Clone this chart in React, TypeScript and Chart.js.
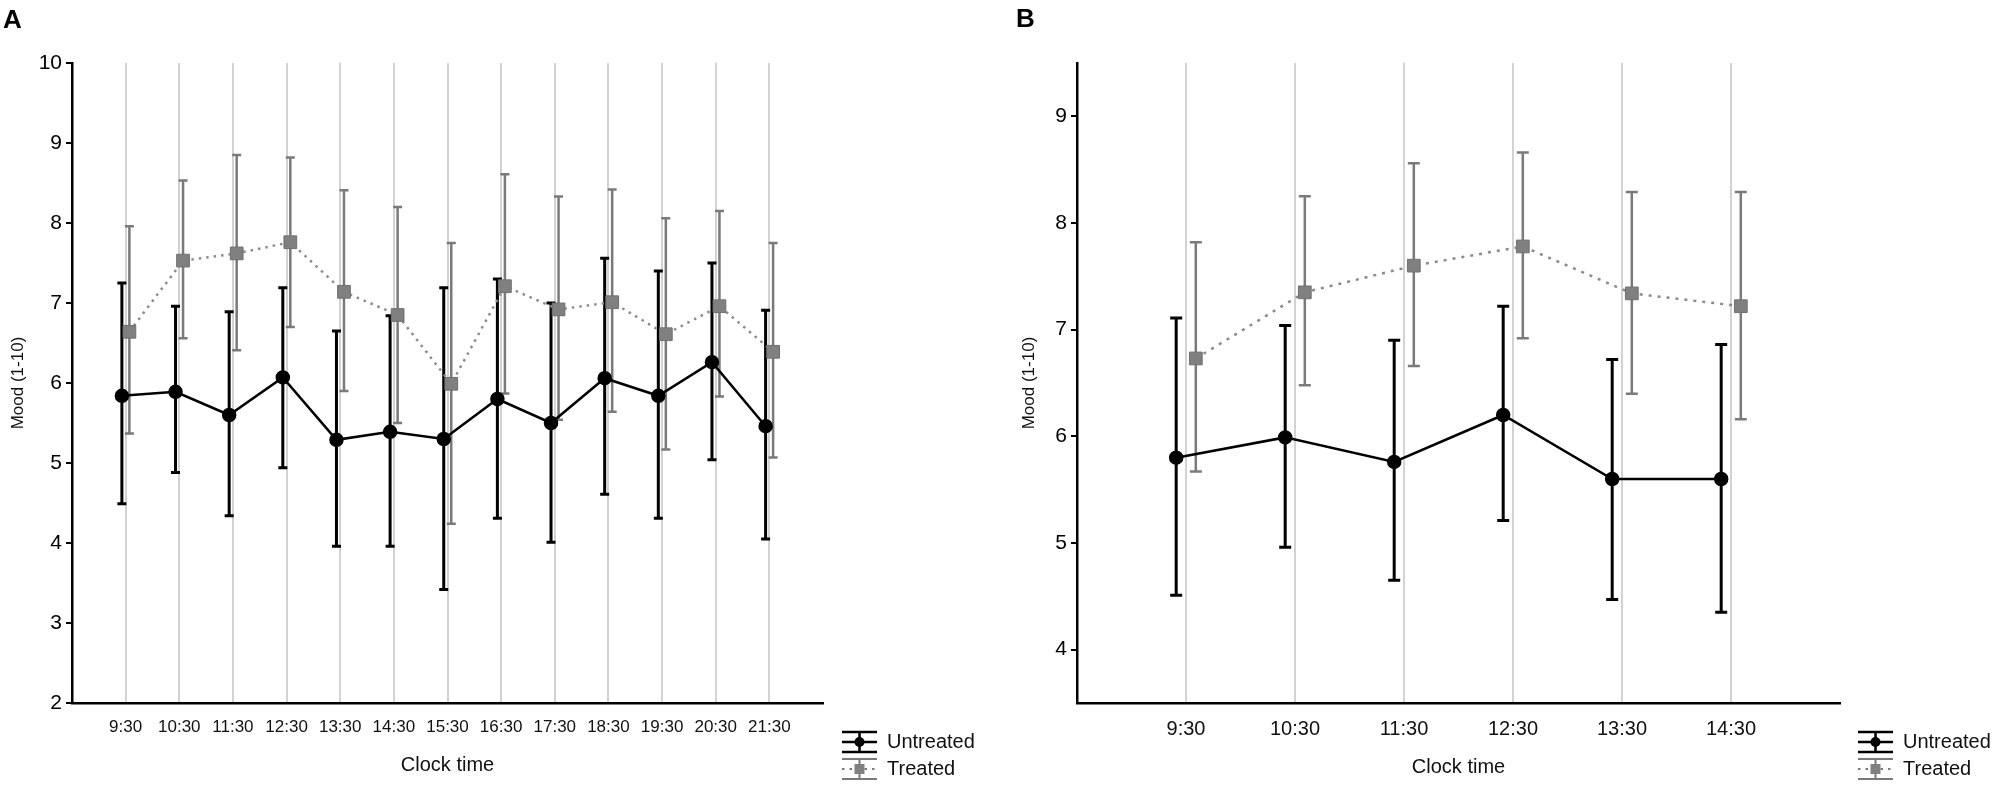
import { useEffect, useRef } from 'react';
import { Chart, registerables } from 'chart.js';

Chart.register(...registerables);

// Panel A – whole day
const timesA = ['9:30', '10:30', '11:30', '12:30', '13:30', '14:30', '15:30', '16:30', '17:30', '18:30', '19:30', '20:30', '21:30'];
const yTicksA = [2, 3, 4, 5, 6, 7, 8, 9, 10];
const untreatedA = [5.84, 5.89, 5.6, 6.07, 5.29, 5.39, 5.3, 5.8, 5.5, 6.06, 5.84, 6.26, 5.46];
const untreatedHiA = [7.25, 6.96, 6.89, 7.19, 6.65, 6.84, 7.19, 7.3, 7.0, 7.56, 7.4, 7.5, 6.91];
const untreatedLoA = [4.49, 4.88, 4.34, 4.94, 3.96, 3.96, 3.42, 4.31, 4.01, 4.61, 4.31, 5.04, 4.05];
const treatedA = [6.64, 7.53, 7.62, 7.76, 7.14, 6.85, 5.99, 7.21, 6.92, 7.01, 6.61, 6.96, 6.39];
const treatedHiA = [7.96, 8.53, 8.85, 8.82, 8.41, 8.2, 7.75, 8.61, 8.33, 8.42, 8.06, 8.15, 7.75];
const treatedLoA = [5.37, 6.56, 6.41, 6.7, 5.9, 5.5, 4.24, 5.87, 5.54, 5.64, 5.17, 5.83, 5.07];

// Panel B – morning
const timesB = ['9:30', '10:30', '11:30', '12:30', '13:30', '14:30'];
const yTicksB = [4, 5, 6, 7, 8, 9];
const untreatedB = [5.8, 5.99, 5.76, 6.2, 5.6, 5.6];
const untreatedHiB = [7.11, 7.04, 6.9, 7.22, 6.72, 6.86];
const untreatedLoB = [4.51, 4.96, 4.65, 5.21, 4.47, 4.35];
const treatedB = [6.73, 7.35, 7.6, 7.78, 7.34, 7.22];
const treatedHiB = [7.82, 8.25, 8.56, 8.66, 8.29, 8.29];
const treatedLoB = [5.67, 6.48, 6.66, 6.92, 6.4, 6.16];

const legendLabels = ['Untreated', 'Treated'];
const yTitle = 'Mood (1-10)';
const xTitle = 'Clock time';

const FONT = '"Liberation Sans", Arial, sans-serif';
const W = 2000;
const H = 788;

interface PanelSpec {
  letter: string;
  times: string[];
  yTicks: number[];
  untreated: number[];
  untreatedHi: number[];
  untreatedLo: number[];
  treated: number[];
  treatedHi: number[];
  treatedLo: number[];
  yMin: number;
  yMax: number;
  plot: { left: number; right: number; top: number; bottom: number };
  shift: number;
  cap: number;
  tickSize: number;
  dash: number[];
  letterPos: [number, number];
  yTitleX: number;
  xTitleY: number;
  legendX: number;
}

const panelA: PanelSpec = {
  letter: 'A',
  times: timesA,
  yTicks: yTicksA,
  untreated: untreatedA,
  untreatedHi: untreatedHiA,
  untreatedLo: untreatedLoA,
  treated: treatedA,
  treatedHi: treatedHiA,
  treatedLo: treatedLoA,
  yMin: 2,
  yMax: 10,
  plot: { left: 72, right: 823, top: 63, bottom: 703 },
  shift: 0.07,
  cap: 9,
  tickSize: 17,
  dash: [2.5, 5],
  letterPos: [3, 28],
  yTitleX: 18,
  xTitleY: 765,
  legendX: 842,
};

const panelB: PanelSpec = {
  letter: 'B',
  times: timesB,
  yTicks: yTicksB,
  untreated: untreatedB,
  untreatedHi: untreatedHiB,
  untreatedLo: untreatedLoB,
  treated: treatedB,
  treatedHi: treatedHiB,
  treatedLo: treatedLoB,
  yMin: 3.5,
  yMax: 9.5,
  plot: { left: 1077, right: 1840, top: 63, bottom: 703 },
  shift: 0.09,
  cap: 12,
  tickSize: 20,
  dash: [3, 6],
  letterPos: [1016, 27],
  yTitleX: 1029,
  xTitleY: 767,
  legendX: 1858,
};

// error bars drawn from the hi / lo arrays through the chart scales
const errorBars = {
  id: 'errorBars',
  beforeDatasetsDraw(chart: any) {
    const { ctx, chartArea, scales } = chart;
    const cap = chart.options.plugins.errorBars.cap;
    ctx.save();
    ctx.beginPath();
    ctx.rect(chartArea.left, chartArea.top, chartArea.right - chartArea.left, chartArea.bottom - chartArea.top);
    ctx.clip();
    chart.data.datasets.forEach((ds: any) => {
      ctx.strokeStyle = ds.barColor;
      ctx.lineWidth = ds.barWidth;
      ds.data.forEach((pt: any, i: number) => {
        const px = scales.x.getPixelForValue(pt.x);
        const top = scales.y.getPixelForValue(ds.hi[i]);
        const bot = scales.y.getPixelForValue(ds.lo[i]);
        ctx.beginPath();
        ctx.moveTo(px, top);
        ctx.lineTo(px, bot);
        ctx.moveTo(px - cap / 2, top);
        ctx.lineTo(px + cap / 2, top);
        ctx.moveTo(px - cap / 2, bot);
        ctx.lineTo(px + cap / 2, bot);
        ctx.stroke();
      });
    });
    ctx.restore();
  },
};

// panel letter, axis titles and the legend
const decorations = {
  id: 'decorations',
  afterDraw(chart: any) {
    const { ctx, chartArea } = chart;
    const o = chart.options.plugins.decorations;
    ctx.save();
    ctx.fillStyle = '#000';
    ctx.textBaseline = 'alphabetic';
    ctx.textAlign = 'left';
    ctx.font = `bold 26px ${FONT}`;
    ctx.fillText(o.letter, o.letterPos[0], o.letterPos[1]);

    ctx.fillStyle = '#111';
    ctx.font = `20px ${FONT}`;
    ctx.textAlign = 'center';
    ctx.textBaseline = 'middle';
    ctx.fillText(xTitle, (chartArea.left + chartArea.right) / 2, o.xTitleY);

    ctx.save();
    ctx.translate(o.yTitleX, (chartArea.top + chartArea.bottom) / 2);
    ctx.rotate(-Math.PI / 2);
    ctx.font = `17px ${FONT}`;
    ctx.fillText(yTitle, 0, 0);
    ctx.restore();

    // legend glyphs
    const x0 = o.legendX;
    const gw = 35;
    const rows = [742, 769];
    rows.forEach((yc, r) => {
      const col = r === 0 ? '#000' : '#7a7a7a';
      ctx.strokeStyle = col;
      ctx.lineWidth = r === 0 ? 2.5 : 2;
      ctx.setLineDash([]);
      ctx.beginPath();
      ctx.moveTo(x0, yc - 10);
      ctx.lineTo(x0 + gw, yc - 10);
      ctx.moveTo(x0, yc + 10);
      ctx.lineTo(x0 + gw, yc + 10);
      ctx.moveTo(x0 + gw / 2, yc - 10);
      ctx.lineTo(x0 + gw / 2, yc + 10);
      ctx.stroke();
      ctx.beginPath();
      if (r === 0) {
        ctx.moveTo(x0, yc);
        ctx.lineTo(x0 + gw, yc);
        ctx.stroke();
        ctx.fillStyle = '#000';
        ctx.beginPath();
        ctx.arc(x0 + gw / 2, yc, 5, 0, Math.PI * 2);
        ctx.fill();
      } else {
        ctx.setLineDash([2.5, 5]);
        ctx.moveTo(x0, yc);
        ctx.lineTo(x0 + gw, yc);
        ctx.stroke();
        ctx.setLineDash([]);
        ctx.fillStyle = '#808080';
        ctx.fillRect(x0 + gw / 2 - 5, yc - 5, 10, 10);
      }
      ctx.fillStyle = '#111';
      ctx.textAlign = 'left';
      ctx.font = `20px ${FONT}`;
      ctx.fillText(legendLabels[r], x0 + gw + 10, yc);
    });
    ctx.restore();
  },
};

function Panel({ spec }: { spec: PanelSpec }) {
  const canvasRef = useRef<HTMLCanvasElement>(null);

  useEffect(() => {
    if (!canvasRef.current) return;
    const p = spec.plot;
    const n = spec.times.length;

    const chart = new Chart(canvasRef.current, {
      type: 'line',
      data: {
        datasets: [
          {
            label: legendLabels[1],
            data: spec.treated.map((v, i) => ({ x: i + spec.shift, y: v })),
            borderColor: '#8c8c8c',
            borderWidth: 2.5,
            borderDash: spec.dash,
            pointStyle: 'rect',
            pointRadius: 9,
            pointBackgroundColor: '#808080',
            pointBorderColor: '#707070',
            pointBorderWidth: 1,
            tension: 0,
            hi: spec.treatedHi,
            lo: spec.treatedLo,
            barColor: '#7a7a7a',
            barWidth: 2.5,
          } as any,
          {
            label: legendLabels[0],
            data: spec.untreated.map((v, i) => ({ x: i - spec.shift, y: v })),
            borderColor: '#000',
            borderWidth: 2.5,
            pointStyle: 'circle',
            pointRadius: 6,
            pointBackgroundColor: '#000',
            pointBorderColor: '#000',
            tension: 0,
            hi: spec.untreatedHi,
            lo: spec.untreatedLo,
            barColor: '#000',
            barWidth: 3,
          } as any,
        ],
      },
      options: {
        animation: false,
        responsive: false,
        devicePixelRatio: 1,
        layout: { padding: { left: 0, right: W - p.right, top: p.top, bottom: 0 } },
        plugins: {
          legend: { display: false },
          tooltip: { enabled: false },
          errorBars: { cap: spec.cap },
          decorations: {
            letter: spec.letter,
            letterPos: spec.letterPos,
            yTitleX: spec.yTitleX,
            xTitleY: spec.xTitleY,
            legendX: spec.legendX,
          },
        } as any,
        scales: {
          x: {
            type: 'linear',
            min: -1,
            max: n,
            afterFit: (s: any) => {
              s.height = H - p.bottom;
            },
            ticks: {
              stepSize: 1,
              autoSkip: false,
              maxRotation: 0,
              padding: 14,
              color: '#111',
              font: { family: FONT, size: spec.tickSize },
              callback: (v: any) => spec.times[v] ?? '',
            },
            grid: {
              drawTicks: false,
              lineWidth: 2,
              color: (c: any) => (c.tick && (c.tick.value < 0 || c.tick.value >= n) ? 'rgba(0,0,0,0)' : '#d2d2d2'),
            },
            border: { color: '#000', width: 2.5 },
          },
          y: {
            type: 'linear',
            min: spec.yMin,
            max: spec.yMax,
            afterFit: (s: any) => {
              s.width = p.left;
            },
            afterBuildTicks: (s: any) => {
              s.ticks = spec.yTicks.map((v) => ({ value: v }));
            },
            ticks: {
              padding: 4,
              color: '#000',
              font: { family: FONT, size: 21 },
            },
            grid: {
              drawOnChartArea: false,
              drawTicks: true,
              tickLength: 6,
              lineWidth: 2,
              color: '#000',
            },
            border: { color: '#000', width: 2.5 },
          },
        },
      },
      plugins: [errorBars, decorations],
    });

    return () => {
      chart.destroy();
    };
  }, [spec]);

  return (
    <canvas
      ref={canvasRef}
      width={W}
      height={H}
      style={{ position: 'absolute', left: 0, top: 0, width: W, height: H }}
    />
  );
}

export default function App() {
  return (
    <div style={{ position: 'absolute', left: 0, top: 0, width: W, height: H, background: '#fff' }}>
      <Panel spec={panelA} />
      <Panel spec={panelB} />
    </div>
  );
}
